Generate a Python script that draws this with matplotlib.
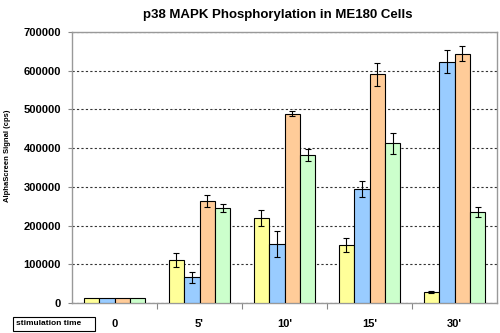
import numpy as np
import matplotlib.pyplot as plt
from matplotlib.patches import Rectangle

plt.rcParams['font.family'] = ['Liberation Sans', 'DejaVu Sans']

times = ['0', "5'", "10'", "15'", "30'"]
colors = ['#FFFF99', '#99CCFF', '#FFCC99', '#CCFFCC']

# four series per stimulation time, with error bars
vals = [
    [14000, 111000, 220000, 151000, 29000],
    [14000, 66000, 152000, 294000, 623000],
    [14000, 264000, 489000, 591000, 644000],
    [14000, 245000, 382000, 412000, 234000],
]
errs = [
    [0, 17000, 21000, 18000, 2000],
    [0, 14000, 34000, 20000, 30000],
    [0, 16000, 7000, 30000, 20000],
    [0, 10000, 15000, 27000, 13000],
]

fig = plt.figure(figsize=(5, 3.33), dpi=100)
ax = fig.add_axes([0.144, 0.0901, 0.85, 0.8138])

x = np.arange(len(times))
w = 1 / 5.5
for i in range(4):
    pos = x + (i - 1.5) * w
    ax.bar(pos, vals[i], w, color=colors[i], edgecolor='black', linewidth=0.8, zorder=3)
    e = np.array(errs[i])
    m = e > 0
    ax.errorbar(pos[m], np.array(vals[i])[m], yerr=e[m], fmt='none', ecolor='black',
                elinewidth=0.8, capsize=2, capthick=0.8, zorder=4)

ax.set_xlim(-0.5, 4.5)
ax.set_ylim(0, 700000)
ax.set_yticks(np.arange(0, 700001, 100000))
ax.set_yticklabels([str(v) for v in range(0, 700001, 100000)], fontsize=8, fontweight='bold')
ax.yaxis.grid(True, linestyle=(0, (2, 2)), color='#333333', linewidth=0.8, zorder=0)
ax.tick_params(axis='y', length=3, color='#888888', pad=5)

ax.set_xticks(np.arange(0.5, 4.5, 1))
ax.set_xticklabels([])
ax.tick_params(axis='x', length=4, color='#888888', direction='out')

for s in ['left', 'bottom', 'top', 'right']:
    ax.spines[s].set_color('#999999')
    ax.spines[s].set_linewidth(1.0)

for xi, t in zip(x, times):
    ax.text(xi, -55000, t, ha='center', va='center', fontsize=8, fontweight='bold')

# boxed row header under the axis
fig.patches.append(Rectangle((0.026, 0.006), 0.164, 0.043, transform=fig.transFigure,
                             facecolor='white', edgecolor='black', linewidth=0.8))
fig.text(0.032, 0.028, 'stimulation time', ha='left', va='center', fontsize=6, fontweight='bold')
fig.text(0.555, 0.955, 'p38 MAPK Phosphorylation in ME180 Cells', ha='center', va='center',
         fontsize=9.5, fontweight='bold')
fig.text(0.016, 0.532, 'AlphaScreen Signal (cps)', rotation=90, ha='center', va='center',
         fontsize=5.5, fontweight='bold')

fig.savefig('out.png', dpi=100)
